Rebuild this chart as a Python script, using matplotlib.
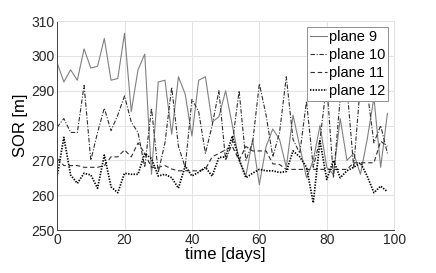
import numpy as np
import matplotlib
matplotlib.use('Agg')
import matplotlib.pyplot as plt

plt.rcParams['font.family'] = ['Liberation Sans', 'DejaVu Sans']

# days sampled every 2 days
days = list(range(0, 100, 2))

plane9 = [298, 292.5, 296, 293, 302, 296.5, 297, 305, 293, 293.5,
          306.5, 284, 296, 300.5, 266, 292.5, 293, 277.5, 294, 289,
          277, 293, 294, 281, 282.5, 290, 280, 270, 265.5, 276,
          263, 274, 279, 276, 268, 283, 274, 265, 270, 280,
          268, 266, 282, 270, 272, 266, 276, 288, 268, 283.5]
plane10 = [279.5, 282, 278, 278, 291.5, 270, 278, 285, 278.5, 283,
           288.5, 281, 278, 268, 285, 266.5, 275, 291, 274, 268,
           287.5, 284, 272, 280, 290, 270, 275, 290, 270, 275,
           292, 283, 271, 278, 294, 276, 272, 287, 268, 276,
           292, 265, 288, 291, 268, 292, 290, 275, 280, 272]
plane11 = [270.5, 268.5, 268.5, 268.5, 268, 268, 268, 268.5, 271, 271,
           273, 271, 275, 272, 268, 268, 268.5, 267.5, 267, 267,
           267, 267, 267.5, 271, 272, 273, 274, 270, 274, 272.7,
           272.7, 272.7, 269, 268.8, 267.4, 267.4, 267.4, 267.4, 267.4, 267.4,
           267.4, 267.4, 267.4, 267.4, 269.3, 269.3, 269.3, 269.3, 275.5, 274]
plane12 = [265.3, 276.6, 265.8, 263.4, 266.3, 265.8, 262, 271.5, 262.4, 260.7,
           266.3, 266, 266, 272, 270.5, 265.5, 266, 265, 262, 268.4,
           265.5, 266.6, 268, 265.5, 270.8, 271, 277, 270.3, 265, 266.3,
           267.4, 267, 267, 266.5, 266.8, 272.7, 271, 268, 257.8, 275.6,
           264.5, 270, 265, 267, 268, 269.3, 265.5, 260.7, 262.6, 261]

fig = plt.figure(figsize=(4.36, 2.73), dpi=100)
ax = fig.add_axes([0.131, 0.1575, 0.773, 0.7655])

ax.plot(days, plane9, '-', color='#808080', lw=0.8, label='plane 9')
ax.plot(days, plane10, '-.', color='#303030', lw=0.8, label='plane 10',
        dashes=(4, 1.5, 1, 1.5))
ax.plot(days, plane11, '--', color='#303030', lw=0.8, label='plane 11',
        dashes=(4, 2.5))
ax.plot(days, plane12, ':', color='black', lw=1.25, label='plane 12',
        dashes=(0.8, 0.8))

ax.set_xlim(0, 100)
ax.set_ylim(250, 310)
ax.set_xticks(range(0, 101, 20))
ax.set_yticks(range(250, 311, 10))
ax.grid(True, color='#e3e3e3', lw=0.7)
ax.set_axisbelow(True)
for s in ['left', 'bottom']:
    ax.spines[s].set_color('#404040')
    ax.spines[s].set_linewidth(0.7)
for s in ['top', 'right']:
    ax.spines[s].set_color('#e3e3e3')
    ax.spines[s].set_linewidth(0.7)
ax.tick_params(labelsize=10, colors='#262626', length=0, pad=2)
ax.set_xlabel('time [days]', fontsize=12, labelpad=0)
ax.set_ylabel('SOR [m]', fontsize=12, labelpad=2)

leg = ax.legend(loc='upper right', fontsize=10.5, handlelength=1.15,
                handletextpad=0.15, labelspacing=0.28, borderpad=0.2,
                borderaxespad=0.4, fancybox=False, framealpha=1)
leg.get_frame().set_edgecolor('#909090')
leg.get_frame().set_linewidth(0.7)

fig.savefig('out.png', dpi=100)
